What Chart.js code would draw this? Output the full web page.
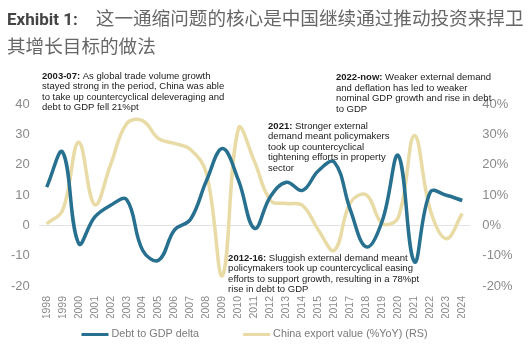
<!DOCTYPE html>
<html>
<head>
<meta charset="utf-8">
<script src="https://cdn.jsdelivr.net/npm/chart.js@4/dist/chart.umd.min.js"></script>
<style>
  html, body {margin: 0; padding: 0; background: #fff;}
  #wrap {position: relative; width: 531px; height: 350px;}
  #title {position: absolute; left: 7px; top: 4px; width: 524px; font-family: 'Roboto', 'Noto Sans CJK SC', sans-serif; font-size: 17px; line-height: 26px; color: #666;}
  #title b {color: #444; font-weight: bold; margin-right: 18px;}
  #title span {font-family: 'Noto Sans CJK SC', sans-serif; font-size: 18.6px;}
  canvas {position: absolute; left: 0; top: 0;}
</style>
</head>
<body>
<div id="wrap">
  <canvas id="chart" width="531" height="350"></canvas>
  <div id="title"><b>Exhibit 1:</b><span>这一通缩问题的核心是中国继续通过推动投资来捍卫其增长目标的做法</span></div>
</div>
<script>
const years = ['1998','1999','2000','2001','2002','2003','2004','2005','2006','2007','2008','2009','2010','2011','2012','2013','2014','2015','2016','2017','2018','2019','2020','2021','2022','2023','2024']
const debtDelta = [12.6, 24.1, -6, 2.7, 6.6, 8.5, -8.2, -11.5, -1.5, 2, 14.8, 25.3, 14.8, -1, 9.5, 14.2, 11.5, 18, 20.8, 5, -7.1, 1.6, 23, -12, 11, 9.9, 8.2]
const exportYoY = [0.5, 5, 27.4, 6.8, 20, 33.5, 34.5, 28.6, 27, 25, 17, -16.5, 32, 21, 8.2, 7.2, 6.6, -1.6, -8.2, 7.5, 10, 0.6, 2.7, 29.6, 5, -4.4, 3.9]

const notes = [
  {x: -0.29, y: 50.8, lines: [['2003-07:', ' As global trade volume growth'], ['', 'stayed strong in the period, China was able'], ['', 'to take up countercyclical deleveraging and'], ['', 'debt to GDP fell 21%pt']]},
  {x: 18.1, y: 50.2, lines: [['2022-now:', ' Weaker external demand'], ['', 'and deflation has led to weaker'], ['', 'nominal GDP growth and rise in debt'], ['', 'to GDP']]},
  {x: 13.85, y: 34.3, lines: [['2021:', ' Stronger external'], ['', 'demand meant policymakers'], ['', 'took up countercyclical'], ['', 'tightening efforts in property'], ['', 'sector']]},
  {x: 11.35, y: -9.2, lines: [['2012-16:', ' Sluggish external demand meant'], ['', 'policymakers took up countercyclical easing'], ['', 'efforts to support growth, resulting in a 78%pt'], ['', 'rise in debt to GDP']]},
]

const notesPlugin = {
  id: 'notes',
  afterDatasetsDraw(chart) {
    const ctx = chart.ctx
    const xs = chart.scales.x
    const ys = chart.scales.y
    ctx.save()
    ctx.fillStyle = '#1a1a1a'
    ctx.textBaseline = 'top'
    notes.forEach(n => {
      const px = xs.getPixelForValue(n.x)
      let py = ys.getPixelForValue(n.y)
      n.lines.forEach(l => {
        let cx = px
        if (l[0]) {
          ctx.font = 'bold 9.5px "Liberation Sans", Arial, sans-serif'
          ctx.fillText(l[0], cx, py)
          cx += ctx.measureText(l[0]).width
        }
        ctx.font = '9.5px "Liberation Sans", Arial, sans-serif'
        ctx.fillText(l[1], cx, py)
        py += 10.5
      })
    })

    // legend, built from the datasets
    ctx.font = '10.8px "Liberation Sans", Arial, sans-serif'
    ctx.textBaseline = 'middle'
    ctx.fillStyle = '#7a7a7a'
    const gap = 44, box = 27
    const items = chart.data.datasets.map(d => ({d, w: box + 3 + ctx.measureText(d.label).width}))
    const total = items.reduce((a, it) => a + it.w, 0) + gap * (items.length - 1)
    const area = chart.chartArea
    let lx = (area.left + area.right - total) / 2
    const ly = 334.5
    items.forEach(it => {
      ctx.strokeStyle = it.d.borderColor
      ctx.lineWidth = 3
      ctx.beginPath()
      ctx.moveTo(lx, ly)
      ctx.lineTo(lx + box, ly)
      ctx.stroke()
      ctx.fillText(it.d.label, lx + box + 3, ly)
      lx += it.w + gap
    })
    ctx.restore()
  }
}

new Chart(document.getElementById('chart'), {
  type: 'line',
  data: {
    labels: years,
    datasets: [
      {label: 'Debt to GDP delta', data: debtDelta, yAxisID: 'y', borderColor: '#27708f', backgroundColor: '#27708f', order: 1},
      {label: 'China export value (%YoY) (RS)', data: exportYoY, yAxisID: 'y2', borderColor: '#e8dba6', backgroundColor: '#e8dba6', order: 2},
    ]
  },
  options: {
    responsive: false,
    animation: false,
    borderWidth: 3.5,
    tension: 0.4,
    pointRadius: 0,
    layout: {padding: {top: 104, left: 0, right: 0, bottom: 32}},
    plugins: {
      legend: {display: false},
      tooltip: {enabled: false}
    },
    scales: {
      x: {
        offset: true,
        grid: {display: false},
        border: {display: false},
        ticks: {color: '#8a8a8a', font: {family: '"Liberation Sans", Arial, sans-serif', size: 10.5}, minRotation: 90, maxRotation: 90, autoSkip: false, padding: 2},
        afterFit(s) { s.height = 32 }
      },
      y: {
        position: 'left',
        min: -20, max: 40,
        border: {display: false},
        grid: {drawTicks: false, color: c => c.tick.value === 0 ? '#e3e3e3' : 'transparent', lineWidth: 1},
        ticks: {stepSize: 10, color: '#8a8a8a', font: {family: '"Liberation Sans", Arial, sans-serif', size: 13}, padding: 9},
        afterFit(s) { s.width = 38.7 }
      },
      y2: {
        position: 'right',
        min: -20, max: 40,
        border: {display: false},
        grid: {display: false, drawTicks: false},
        ticks: {stepSize: 10, color: '#8a8a8a', font: {family: '"Liberation Sans", Arial, sans-serif', size: 13}, padding: 12, callback: v => v + '%'},
        afterFit(s) { s.width = 60.7 }
      }
    }
  },
  plugins: [notesPlugin]
})
</script>
</body>
</html>
